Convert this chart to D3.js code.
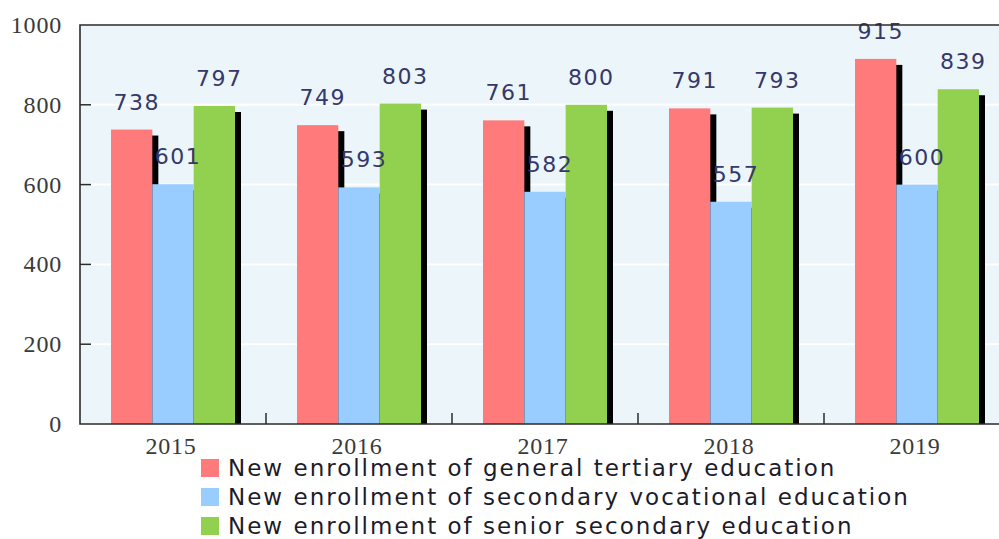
<!DOCTYPE html>
<html>
<head>
<meta charset="utf-8">
<script src="https://cdn.jsdelivr.net/npm/d3@7"></script>
<style>
  body { margin: 0; background: #ffffff; }
  .axisTick { font-family: "Liberation Serif", serif; font-size: 24px; fill: #3a3a3a; letter-spacing: 0.8px; }
  .valueLabel { font-family: "DejaVu Sans", sans-serif; font-size: 22px; fill: #35386a; letter-spacing: 1.5px; }
  .legendLabel { font-family: "DejaVu Sans", sans-serif; font-size: 23px; fill: #1c1c2a; letter-spacing: 2px; }
</style>
</head>
<body>
<svg id="chart" width="999" height="539"></svg>
<script>

var years = ["2015", "2016", "2017", "2018", "2019"];
var seriesNames = [
  "New enrollment of general tertiary education",
  "New enrollment of secondary vocational education",
  "New enrollment of senior secondary education"
];
var tertiary = [738, 749, 761, 791, 915];
var vocational = [601, 593, 582, 557, 600];
var senior = [797, 803, 800, 793, 839];
var yTicks = [0, 200, 400, 600, 800, 1000];

var colors = ["#ff7b7b", "#99ccff", "#92d050"];

/************************************************************************************************************/

var svg = d3.select("#chart");
svg.margin = {left: 80, top: 25, zero: 424};
svg.step = 186;
svg.shadow = 6;

var allSeries = [tertiary, vocational, senior];

var x0 = d3.scaleBand().domain(years)
  .range([svg.margin.left, svg.margin.left + svg.step * years.length]);

var x1 = d3.scaleBand().domain(d3.range(allSeries.length))
  .range([0, x0.bandwidth()]).paddingOuter(0.75).paddingInner(0);

var y = d3.scaleLinear().domain([0, 1000]).range([svg.margin.zero, svg.margin.top]);

var plotRight = x0.range()[1];

//background
svg.append("rect")
  .attr("x", svg.margin.left)
  .attr("y", y(1000))
  .attr("width", plotRight - svg.margin.left)
  .attr("height", y(0) - y(1000))
  .attr("fill", "#ecf5f9");

//grid
svg.append("g").selectAll("line")
  .data(yTicks.filter(function(t){return t > 0 && t < 1000;}))
  .enter().append("line")
  .attr("x1", svg.margin.left)
  .attr("x2", plotRight)
  .attr("y1", function(d){return y(d);})
  .attr("y2", function(d){return y(d);})
  .attr("stroke", "#ffffff")
  .attr("stroke-width", 2);

/************************************************************************************************************/

var bars = [];
years.forEach(function(yr, i){
  allSeries.forEach(function(s, k){
    bars.push({year: yr, k: k, value: s[i]});
  });
});

var chart = svg.append("g");

chart.selectAll(".shadow").data(bars).enter().append("rect")
  .attr("class", "shadow")
  .attr("x", function(d){return x0(d.year) + x1(d.k) + svg.shadow;})
  .attr("y", function(d){return y(d.value) + svg.shadow;})
  .attr("width", x1.bandwidth())
  .attr("height", function(d){return y(0) - y(d.value) - svg.shadow;})
  .attr("fill", "#000000");

chart.selectAll(".data").data(bars).enter().append("rect")
  .attr("class", "data")
  .attr("x", function(d){return x0(d.year) + x1(d.k);})
  .attr("y", function(d){return y(d.value);})
  .attr("width", x1.bandwidth())
  .attr("height", function(d){return y(0) - y(d.value);})
  .attr("fill", function(d){return colors[d.k];});

chart.selectAll(".valueLabel").data(bars).enter().append("text")
  .attr("class", "valueLabel")
  .attr("text-anchor", "middle")
  .attr("x", function(d){return x0(d.year) + x1(d.k) + x1.bandwidth() / 2 + 5;})
  .attr("y", function(d){return y(d.value) - 20;})
  .text(function(d){return d.value;});

/************************************************************************************************************/

//frame : left, top and bottom
svg.append("path")
  .attr("d", "M" + plotRight + "," + y(1000) + "H" + svg.margin.left + "V" + y(0) + "H" + plotRight)
  .attr("fill", "none")
  .attr("stroke", "#2b2b2b")
  .attr("stroke-width", 1.6);

//y ticks pointing inside
svg.append("g").selectAll("line")
  .data(yTicks.filter(function(t){return t > 0 && t < 1000;}))
  .enter().append("line")
  .attr("x1", svg.margin.left)
  .attr("x2", svg.margin.left + 11)
  .attr("y1", function(d){return y(d);})
  .attr("y2", function(d){return y(d);})
  .attr("stroke", "#2b2b2b")
  .attr("stroke-width", 1.5);

svg.append("g").selectAll("text")
  .data(yTicks).enter().append("text")
  .attr("class", "axisTick")
  .attr("text-anchor", "end")
  .attr("x", svg.margin.left - 18)
  .attr("y", function(d){return y(d);})
  .attr("dy", "0.33em")
  .text(function(d){return d;});

//x ticks between categories
svg.append("g").selectAll("line")
  .data(years.slice(1))
  .enter().append("line")
  .attr("x1", function(d){return x0(d);})
  .attr("x2", function(d){return x0(d);})
  .attr("y1", y(0))
  .attr("y2", y(0) - 11)
  .attr("stroke", "#2b2b2b")
  .attr("stroke-width", 1.5);

svg.append("g").selectAll("text")
  .data(years).enter().append("text")
  .attr("class", "axisTick")
  .attr("text-anchor", "middle")
  .attr("x", function(d){return x0(d) + x0.bandwidth() / 2 - 2;})
  .attr("y", y(0) + 30)
  .text(function(d){return d;});

/************************************************************************************************************/

var legend = svg.append("g").attr("transform", "translate(201,459)");

var rows = legend.selectAll("g").data(seriesNames).enter().append("g")
  .attr("transform", function(d, i){return "translate(0," + i * 29 + ")";});

rows.append("rect")
  .attr("width", 18)
  .attr("height", 18)
  .attr("fill", function(d, i){return colors[i];});

rows.append("text")
  .attr("class", "legendLabel")
  .attr("x", 27)
  .attr("y", 17)
  .text(function(d){return d;});

</script>
</body>
</html>
